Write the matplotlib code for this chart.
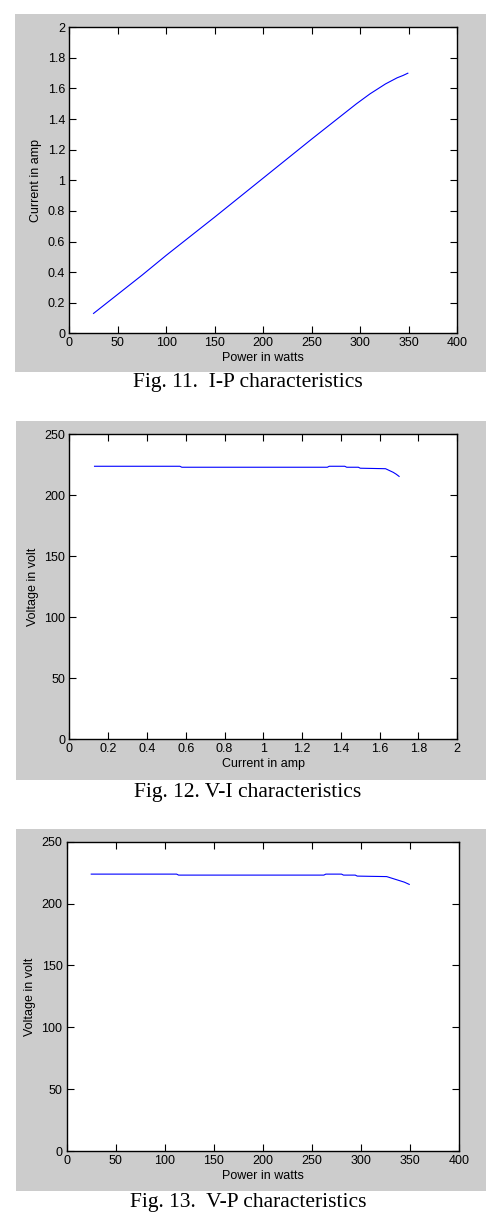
import matplotlib
matplotlib.use("Agg")
import matplotlib.pyplot as plt
from matplotlib.patches import Rectangle

power = [25, 50, 75, 100, 112, 114, 150, 200, 250, 262, 264, 280, 282, 294, 296, 310, 326, 332, 338, 344, 349]
current = [0.13, 0.255, 0.38, 0.51, 0.57, 0.58, 0.76, 1.015, 1.27, 1.33, 1.34, 1.42, 1.43, 1.49, 1.50, 1.565, 1.63, 1.65, 1.67, 1.685, 1.70]
voltage = [223.8, 223.8, 223.8, 223.8, 223.8, 223.0, 223.0, 223.0, 223.0, 223.0, 223.8, 223.8, 223.0, 223.0, 222.2, 222.0, 221.8, 220.3, 218.8, 217.3, 215.5]

captions = ["Fig. 11.  I-P characteristics",
            "Fig. 12. V-I characteristics",
            "Fig. 13.  V-P characteristics"]

W, H = 502, 1215
fig = plt.figure(figsize=(W / 100, H / 100), dpi=100)
fig.patch.set_facecolor("white")

plt.rcParams['font.family'] = ['Liberation Sans', 'DejaVu Sans']

def px_rect(x0, y0, x1, y1):
    # pixel box (top-left origin) -> figure fraction
    return [x0 / W, (H - y1) / H, (x1 - x0) / W, (y1 - y0) / H]

grays = [(15, 14, 486, 372), (16, 421, 486, 780), (16, 829, 486, 1191)]
boxes = [(69.3, 27.3, 457.3, 333.3), (69.3, 434.3, 457.3, 739.3), (66.7, 841.7, 459.3, 1151)]
cap_y = [383, 792, 1202]

for g in grays:
    l, b, w, h = px_rect(*g)
    fig.add_artist(Rectangle((l, b), w, h, transform=fig.transFigure,
                             facecolor="#cccccc", edgecolor="none", zorder=0))

setups = [
    (power, current, (0, 400), range(0, 401, 50), (0, 2), [0, 0.2, 0.4, 0.6, 0.8, 1, 1.2, 1.4, 1.6, 1.8, 2],
     "Power in watts", "Current in amp"),
    (current, voltage, (0, 2), [0, 0.2, 0.4, 0.6, 0.8, 1, 1.2, 1.4, 1.6, 1.8, 2], (0, 250), range(0, 251, 50),
     "Current in amp", "Voltage in volt"),
    (power, voltage, (0, 400), range(0, 401, 50), (0, 250), range(0, 251, 50),
     "Power in watts", "Voltage in volt"),
]

def fmt(v):
    return "%g" % v

for i, (xs, ys, xl, xt, yl, yt, xlab, ylab) in enumerate(setups):
    ax = fig.add_axes(px_rect(*boxes[i]))
    ax.plot(xs, ys, color="#0000ff", linewidth=0.8)
    ax.set_xlim(*xl)
    ax.set_ylim(*yl)
    ax.set_xticks(list(xt))
    ax.set_yticks(list(yt))
    ax.set_xticklabels([fmt(v) for v in xt])
    ax.set_yticklabels([fmt(v) for v in yt])
    ax.tick_params(direction="in", length=5, width=0.8, top=True, right=True,
                   labelsize=9, pad=3, colors="black")
    for s in ax.spines.values():
        s.set_linewidth(1.0)
    ax.set_xlabel(xlab, fontsize=9, labelpad=2)
    ax.set_ylabel(ylab, fontsize=9, labelpad=4)
    fig.text(248 / W, (H - cap_y[i]) / H, captions[i], ha="center", va="center",
             fontsize=15.5, family=["Liberation Serif", "DejaVu Serif"])

fig.savefig("out.png", dpi=100)
